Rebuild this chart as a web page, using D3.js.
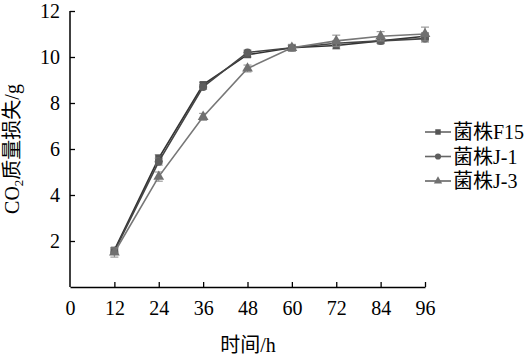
<!DOCTYPE html>
<html><head><meta charset="utf-8">
<script src="https://cdn.jsdelivr.net/npm/d3@7"></script>
<style>body{margin:0;background:#fff}svg{display:block}</style>
</head><body>
<script>
const hours = [12, 24, 36, 48, 60, 72, 84, 96];
const xTicks = [0, 12, 24, 36, 48, 60, 72, 84, 96];
const yTicks = [2, 4, 6, 8, 10, 12];
const seriesNames = ["菌株F15", "菌株J-1", "菌株J-3"];
const f15 = [1.6, 5.6, 8.8, 10.1, 10.4, 10.5, 10.7, 10.9];
const j1  = [1.55, 5.45, 8.7, 10.2, 10.4, 10.6, 10.7, 10.8];
const j3  = [1.5, 4.8, 7.4, 9.5, 10.4, 10.7, 10.9, 11.0];
const f15Err = [0.1, 0.15, 0.1, 0.1, 0.1, 0.15, 0.1, 0.15];
const j1Err  = [0.1, 0.15, 0.1, 0.1, 0.1, 0.1, 0.1, 0.15];
const j3Err  = [0.2, 0.2, 0.15, 0.15, 0.15, 0.25, 0.2, 0.3];

const W = 532, H = 359;
const svg = d3.select("body").append("svg").attr("width", W).attr("height", H);
const font = "'Liberation Serif','Times New Roman','Noto Sans CJK SC',serif";

const x = d3.scaleLinear().domain([0, 96]).range([70, 425]);
const y = d3.scaleLinear().domain([0, 12]).range([287, 11]);

// axes
const xAxis = d3.axisBottom(x).tickValues(xTicks).tickSizeInner(-5).tickSizeOuter(0).tickPadding(14);
const gx = svg.append("g").attr("transform", `translate(0,${y(0)})`).call(xAxis);
const yAxis = d3.axisLeft(y).tickValues(yTicks).tickSizeInner(-5).tickSizeOuter(0).tickPadding(10);
const gy = svg.append("g").attr("transform", `translate(${x(0)},0)`).call(yAxis);
[gx, gy].forEach(g => {
  g.select(".domain").attr("stroke", "#000").attr("stroke-width", 1.5);
  g.selectAll(".tick line").attr("stroke", "#000").attr("stroke-width", 1.3);
  g.selectAll(".tick text").attr("font-family", font).attr("font-size", 20).attr("fill", "#000");
});
gy.select(".domain").attr("d", `M0,${y(12)}V${y(0)}`);
gx.selectAll(".tick").filter(d => d === 0).select("line").remove();

// axis titles
svg.append("text").attr("x", 248).attr("y", 352).attr("text-anchor", "middle")
  .attr("font-family", font).attr("font-size", 20).text("时间/h");
const yt = svg.append("text").attr("transform", `translate(19,${y(6)}) rotate(-90)`)
  .attr("text-anchor", "middle").attr("font-family", font).attr("font-size", 20);
yt.append("tspan").text("CO");
yt.append("tspan").attr("font-size", 13).attr("dy", 4).text("2");
yt.append("tspan").attr("dy", -4).text("质量损失/g");

const series = [
  {name: seriesNames[0], vals: f15, err: f15Err, line: "#333", mark: "#555", shape: d3.symbolSquare, size: 50},
  {name: seriesNames[1], vals: j1, err: j1Err, line: "#444", mark: "#5e5e5e", shape: d3.symbolCircle, size: 50},
  {name: seriesNames[2], vals: j3, err: j3Err, line: "#777", mark: "#707070", shape: d3.symbolTriangle, size: 50}
];

const line = d3.line().x(d => x(d[0])).y(d => y(d[1]));
series.forEach(s => {
  const pts = hours.map((h, i) => [h, s.vals[i], s.err[i]]);
  const g = svg.append("g");
  g.selectAll("g.eb").data(pts).join("g").each(function(d) {
    const e = d3.select(this);
    const cx = x(d[0]), y1 = y(d[1] - d[2]), y2 = y(d[1] + d[2]);
    e.append("line").attr("x1", cx).attr("x2", cx).attr("y1", y1).attr("y2", y2).attr("stroke", "#888").attr("stroke-width", 1);
    e.append("line").attr("x1", cx - 4).attr("x2", cx + 4).attr("y1", y1).attr("y2", y1).attr("stroke", "#888").attr("stroke-width", 1);
    e.append("line").attr("x1", cx - 4).attr("x2", cx + 4).attr("y1", y2).attr("y2", y2).attr("stroke", "#888").attr("stroke-width", 1);
  });
  g.append("path").attr("d", line(pts)).attr("fill", "none").attr("stroke", s.line).attr("stroke-width", 1.6);
  g.selectAll("path.m").data(pts).join("path").attr("class", "m")
    .attr("transform", d => `translate(${x(d[0])},${y(d[1])})`)
    .attr("d", d3.symbol().type(s.shape).size(s.size)).attr("fill", s.mark);
});

// legend
const lg = svg.append("g");
series.forEach((s, i) => {
  const ly = 132 + i * 24.5;
  lg.append("line").attr("x1", 425).attr("x2", 451).attr("y1", ly).attr("y2", ly).attr("stroke", "#666").attr("stroke-width", 1.6);
  lg.append("path").attr("transform", `translate(438,${ly})`).attr("d", d3.symbol().type(s.shape).size(30)).attr("fill", s.mark);
  lg.append("text").attr("x", 453).attr("y", ly + 7).attr("font-family", font).attr("font-size", 20).text(s.name);
});
</script>
</body></html>
